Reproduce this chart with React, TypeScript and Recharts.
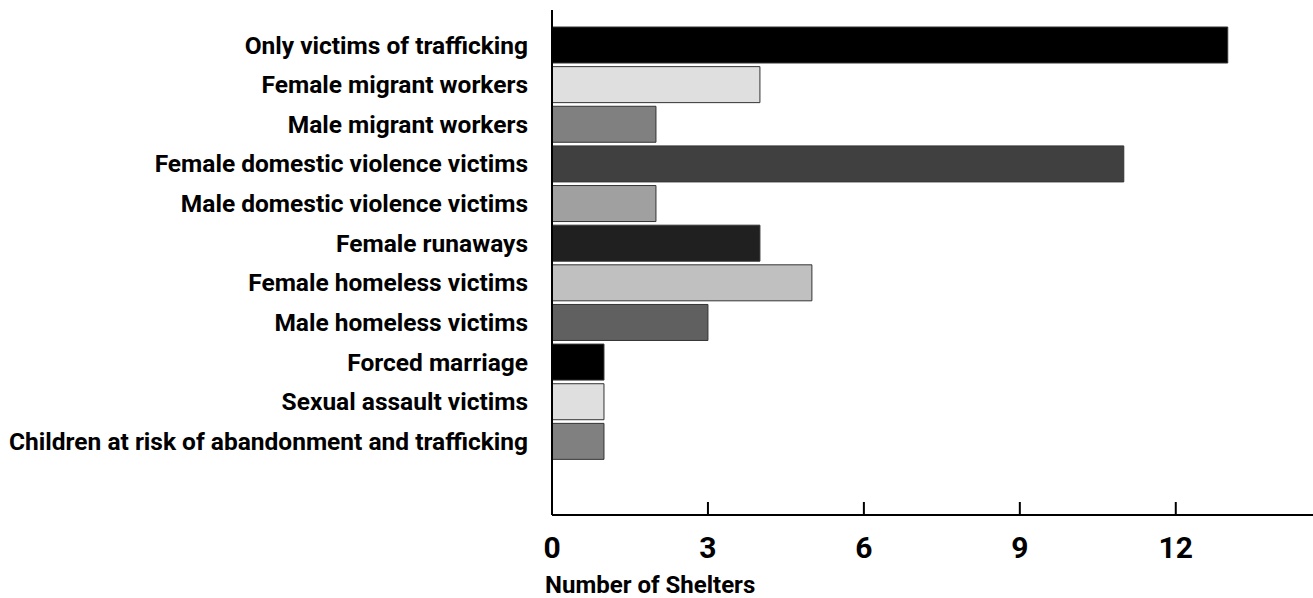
import { BarChart, Bar, XAxis, YAxis, Cell } from "recharts";

const categories = [
  "Only victims of trafficking",
  "Female migrant workers",
  "Male migrant workers",
  "Female domestic violence victims",
  "Male domestic violence victims",
  "Female runaways",
  "Female homeless victims",
  "Male homeless victims",
  "Forced marriage",
  "Sexual assault victims",
  "Children at risk of abandonment and trafficking",
];
const shelters = [13, 4, 2, 11, 2, 4, 5, 3, 1, 1, 1];
const fills = [
  "#000000", "#dfdfdf", "#808080", "#404040", "#a0a0a0", "#202020",
  "#c0c0c0", "#606060", "#000000", "#dfdfdf", "#808080",
];
const xTicks = [0, 3, 6, 9, 12];

const data = categories.map((name, i) => ({ name, value: shelters[i] }));

const FONT = "Roboto, 'DejaVu Sans', sans-serif";

export default function App() {
  return (
    <div style={{ position: "absolute", left: 0, top: 0, width: 1313, height: 598, background: "#fff" }}>
      <BarChart
        width={1313}
        height={598}
        data={data}
        layout="vertical"
        margin={{ top: 10, right: 0, bottom: 0, left: 0 }}
        barSize={36}
      >
        <XAxis
          type="number"
          domain={[0, 14.64]}
          ticks={xTicks}
          allowDataOverflow
          height={83}
          axisLine={{ stroke: "#000", strokeWidth: 2 }}
          tickLine={{ stroke: "#000", strokeWidth: 2 }}
          tickSize={-13}
          tickMargin={35}
          tick={{ fill: "#000", fontSize: 30, fontWeight: 700, fontFamily: FONT }}
          label={{
            content: ({ viewBox }: any) => (
              <text
                x={viewBox.x - 7}
                y={viewBox.y + 78}
                fill="#000"
                fontSize={24}
                fontWeight={700}
                fontFamily={FONT}
                textAnchor="start"
              >
                Number of Shelters
              </text>
            ),
          }}
        />
        <YAxis
          type="category"
          dataKey="name"
          width={552}
          padding={{ top: 15, bottom: 54 }}
          axisLine={{ stroke: "#000", strokeWidth: 2 }}
          tickLine={false}
          tickSize={0}
          tickMargin={24}
          interval={0}
          tick={{ fill: "#000", fontSize: 24.5, fontWeight: 700, fontFamily: FONT }}
        />
        <Bar dataKey="value" stroke="#333" strokeWidth={1} isAnimationActive={false}>
          {data.map((d, i) => (
            <Cell key={d.name} fill={fills[i]} />
          ))}
        </Bar>
      </BarChart>
    </div>
  );
}
